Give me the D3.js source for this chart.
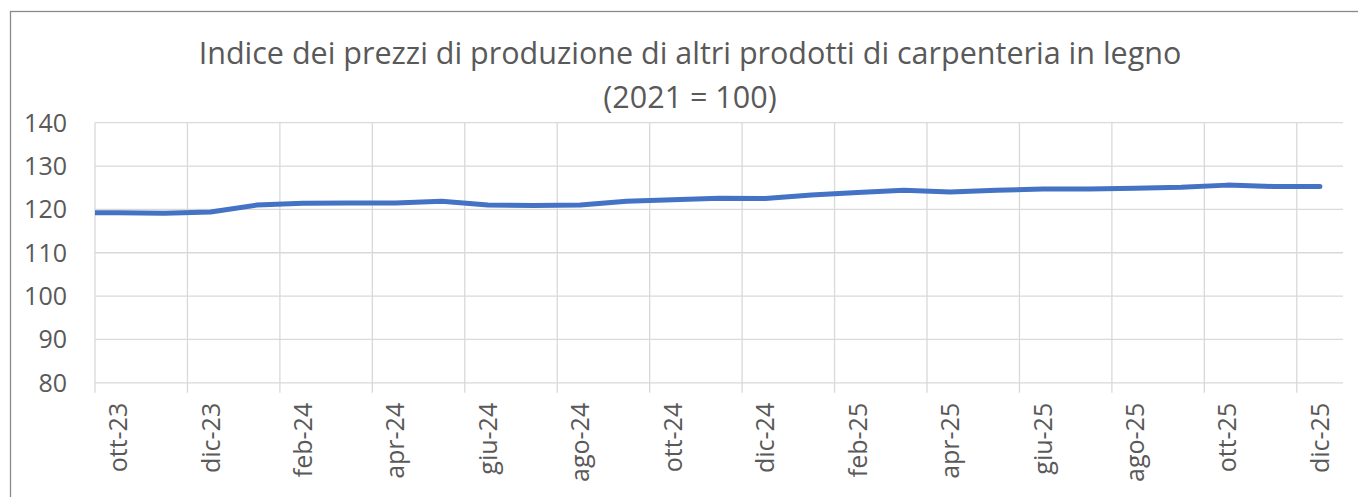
<!DOCTYPE html>
<html>
<head>
<meta charset="utf-8">
<script src="https://cdn.jsdelivr.net/npm/d3@7"></script>
<style>
  body { margin: 0; background: #fff; }
  text { font-family: "Open Sans", sans-serif; fill: #595959; }
</style>
</head>
<body>
<script>
// data
var months = ["ott-23","nov-23","dic-23","gen-24","feb-24","mar-24","apr-24","mag-24","giu-24",
              "lug-24","ago-24","set-24","ott-24","nov-24","dic-24","gen-25","feb-25","mar-25",
              "apr-25","mag-25","giu-25","lug-25","ago-25","set-25","ott-25","nov-25","dic-25"];
var values = [119.2, 119.1, 119.4, 121.0, 121.4, 121.5, 121.5, 121.9, 121.0,
              120.9, 121.0, 121.9, 122.2, 122.6, 122.5, 123.3, 123.9, 124.4,
              124.0, 124.4, 124.7, 124.7, 124.9, 125.1, 125.6, 125.3, 125.3];
var yTicks = [80, 90, 100, 110, 120, 130, 140];
var titleLines = ["Indice dei prezzi di produzione di altri prodotti di carpenteria in legno", "(2021 = 100)"];

window.onload = function(){
    var w = 1358, h = 497;
    var left = 95, right = 1343, top = 122.7, bottom = 382.8;

    var svg = d3.select("body").append("svg")
        .attr("width", w)
        .attr("height", h);

    // plot area clip, so the line starts flat at the left edge
    svg.append("clipPath").attr("id", "plot")
        .append("rect")
        .attr("x", left).attr("y", 0)
        .attr("width", w - left).attr("height", h);

    // chart frame
    svg.append("rect")
        .attr("x", 10.5).attr("y", 11.5)
        .attr("width", w).attr("height", h)
        .style("fill", "none")
        .style("stroke", "#8a8a8a")
        .style("stroke-width", 1.3);

    var x = d3.scaleBand().domain(months).range([left, right]).padding(0);
    var y = d3.scaleLinear().domain([80, 140]).range([bottom, top]);
    var bw = x.bandwidth();

    // horizontal gridlines
    svg.append("g").selectAll("line")
        .data(yTicks).enter().append("line")
        .attr("x1", left).attr("x2", right)
        .attr("y1", function(d){ return y(d); })
        .attr("y2", function(d){ return y(d); })
        .style("stroke", "#d9d9d9").style("stroke-width", 1.3);

    // vertical gridlines every 2 months, running down as tick marks
    var shown = months.filter(function(d, i){ return i % 2 === 0; });
    svg.append("g").selectAll("line")
        .data(shown).enter().append("line")
        .attr("x1", function(d){ return x(d); })
        .attr("x2", function(d){ return x(d); })
        .attr("y1", top).attr("y2", bottom + 10)
        .style("stroke", "#d9d9d9").style("stroke-width", 1.3);

    // y labels
    svg.append("g").selectAll("text")
        .data(yTicks).enter().append("text")
        .attr("x", 67)
        .attr("y", function(d){ return y(d); })
        .attr("dy", "0.36em")
        .attr("text-anchor", "end")
        .style("font-size", "25px")
        .text(function(d){ return d; });

    // x labels, rotated
    svg.append("g").selectAll("text")
        .data(shown).enter().append("text")
        .attr("transform", function(d){
            return "translate(" + (x(d) + bw / 2) + "," + (bottom + 20) + ") rotate(-90)";
        })
        .attr("dy", "0.36em")
        .attr("text-anchor", "end")
        .style("font-size", "25px")
        .text(function(d){ return d; });

    // line: starts at the plot edge, then at the middle of every month
    var pts = [[left - 10, values[0]]].concat(months.map(function(m, i){
        return [x(m) + bw / 2, values[i]];
    }));
    var line = d3.line()
        .x(function(d){ return d[0]; })
        .y(function(d){ return y(d[1]); });
    svg.append("path")
        .datum(pts)
        .attr("d", line)
        .attr("clip-path", "url(#plot)")
        .style("fill", "none")
        .style("stroke", "#4472c4")
        .style("stroke-width", 5)
        .style("stroke-linejoin", "round")
        .style("stroke-linecap", "round");

    // title
    var title = svg.append("text")
        .attr("text-anchor", "middle")
        .style("font-size", "28px");
    title.selectAll("tspan")
        .data(titleLines).enter().append("tspan")
        .attr("x", 690)
        .attr("y", function(d, i){ return 64 + i * 44; })
        .text(function(d){ return d; });
    // fit the first line to the width seen in the picture
    var tl = title.select("tspan").node().getComputedTextLength();
    title.style("font-size", (28 * 983 / tl).toFixed(1) + "px");
};
</script>
</body>
</html>
